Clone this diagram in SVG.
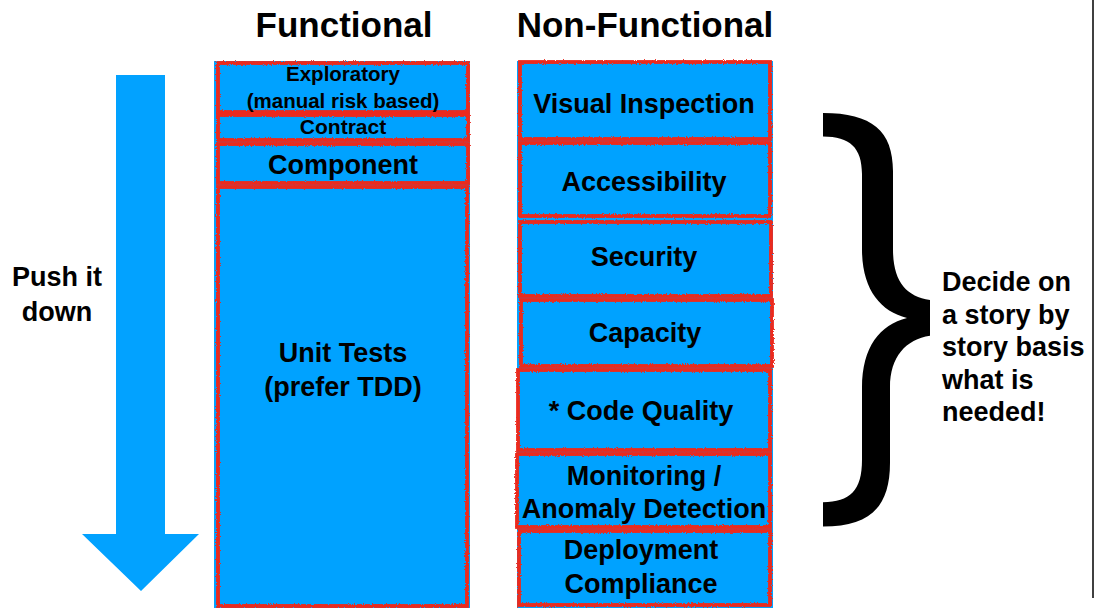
<svg xmlns="http://www.w3.org/2000/svg" width="1096" height="608" viewBox="0 0 1096 608">
<style>
.t{font-family:"Liberation Sans",Arial,sans-serif;font-weight:bold;fill:#000}
.c{text-anchor:middle}
.bg{fill:#02A2FF}
.box{fill:#02A2FF;stroke:#EC2A1C;stroke-width:3.8;filter:url(#rough)}
</style>
<defs>
<filter id="rough" x="-5%" y="-10%" width="110%" height="120%">
<feTurbulence type="fractalNoise" baseFrequency="0.9" numOctaves="2" seed="4" result="n"/>
<feDisplacementMap in="SourceGraphic" in2="n" scale="3" xChannelSelector="R" yChannelSelector="G"/>
</filter>
</defs>
<rect width="1096" height="608" fill="#fff"/>
<line x1="1093" y1="0" x2="1093" y2="598" stroke="#000" stroke-width="1.5"/>
<text class="t c" x="344" y="37" font-size="35">Functional</text>
<text class="t c" x="645" y="37" font-size="35">Non-Functional</text>
<g id="push-arrow">
<path class="bg" d="M116,75 H165 V534 H199 L141,591 L82,534 H116 Z"/>
<text class="t c" x="57" y="286" font-size="27">Push it</text>
<text class="t c" x="57" y="321" font-size="27">down</text>
</g>
<rect class="bg" x="214" y="61" width="256" height="547"/>
<rect class="bg" x="517" y="61" width="256" height="547"/>
<g id="exploratory">
<rect class="box" x="218" y="63" width="250" height="49"/>
<text class="t c" x="343" y="81" font-size="20.5">Exploratory</text>
<text class="t c" x="343" y="108" font-size="20.5">(manual risk based)</text>
</g>
<g id="contract">
<rect class="box" x="218" y="115" width="250" height="25"/>
<text class="t c" x="343" y="134" font-size="21">Contract</text>
</g>
<g id="component">
<rect class="box" x="218" y="144" width="250" height="39"/>
<text class="t c" x="343" y="174" font-size="27">Component</text>
</g>
<g id="unit-tests">
<rect class="box" x="218" y="187" width="249" height="419"/>
<text class="t c" x="343" y="362" font-size="27">Unit Tests</text>
<text class="t c" x="343" y="396" font-size="27">(prefer TDD)</text>
</g>
<g id="visual-inspection">
<rect class="box" x="520" y="62" width="250" height="77"/>
<text class="t c" x="644" y="113" font-size="27">Visual Inspection</text>
</g>
<g id="accessibility">
<rect class="box" x="520" y="143" width="250" height="73"/>
<text class="t c" x="644" y="191" font-size="27">Accessibility</text>
</g>
<g id="security">
<rect class="box" x="520" y="222" width="251" height="74"/>
<text class="t c" x="644" y="266" font-size="27">Security</text>
</g>
<g id="capacity">
<rect class="box" x="521" y="300" width="251" height="66"/>
<text class="t c" x="645" y="342" font-size="27">Capacity</text>
</g>
<g id="code-quality">
<rect class="box" x="518" y="370" width="252" height="80"/>
<text class="t c" x="641" y="420" font-size="27">* Code Quality</text>
</g>
<g id="monitoring">
<rect class="box" x="517" y="454" width="253" height="73"/>
<text class="t c" x="644" y="485" font-size="27">Monitoring /</text>
<text class="t c" x="644" y="518" font-size="27">Anomaly Detection</text>
</g>
<g id="deployment-compliance">
<rect class="box" x="519" y="531" width="251" height="74"/>
<text class="t c" x="641" y="559" font-size="27">Deployment</text>
<text class="t c" x="641" y="593" font-size="27">Compliance</text>
</g>
<g id="brace-note">
<path fill="#000" transform="matrix(1 0 0 0.94 0 6.78)" d="M823,113 C872,113 893,132 893,175 L893,258 C893,292 906,308 930,312 L930,350 C906,354 890,372 890,405 L890,485 C890,532 870,553 823,553 L823,527 C850,527 862,515 862,482 L862,405 C862,362 880,338 907,331 C880,324 862,300 862,258 L862,178 C862,150 850,138 823,138 Z"/>
<text class="t" x="942" y="291" font-size="27">Decide on</text>
<text class="t" x="942" y="324" font-size="27">a story by</text>
<text class="t" x="942" y="356" font-size="27">story basis</text>
<text class="t" x="942" y="389" font-size="27">what is</text>
<text class="t" x="942" y="421" font-size="27">needed!</text>
</g>
</svg>
